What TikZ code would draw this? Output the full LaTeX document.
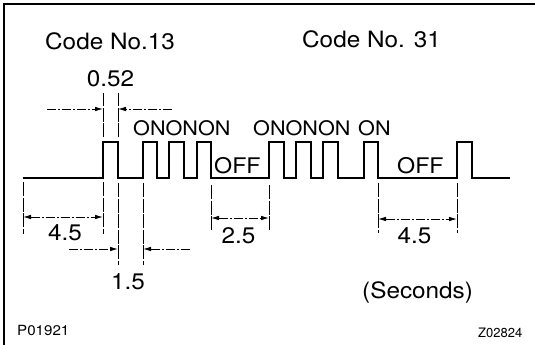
\documentclass[tikz,border=0pt]{standalone}
\usepackage{fontspec}
\setmainfont{TeX Gyre Heros}
\usetikzlibrary{arrows.meta,positioning,calc}
\newcommand{\wide}[1]{\scalebox{1.08}[1]{#1}}

\begin{document}
\begin{tikzpicture}[x=1pt,y=-1pt,
  every node/.style={inner sep=0pt,anchor=base},
  lbl/.style={font=\fontsize{22.5}{26}\selectfont},
  onlbl/.style={font=\fontsize{20}{22}\selectfont,anchor=base west},
  offlbl/.style={font=\fontsize{21.5}{24}\selectfont,anchor=base west},
  tag/.style={font=\fontsize{14}{15}\selectfont,anchor=base west},
  wave/.style={line width=1.6pt,line join=miter},
  ext/.style={line width=0.8pt,dash pattern=on 14pt off 1.5pt},
  dim/.style={line width=0.8pt,dash pattern=on 9pt off 2pt on 2pt off 2pt},
  tip/.style={-{Latex[length=8pt,width=4.5pt]}},
  tips/.style={{Latex[length=8pt,width=4.5pt]}-{Latex[length=8pt,width=4.5pt]}}]
  \useasboundingbox (0,0) rectangle (535,345);
  % frame
  \draw[line width=1.8pt] (4,345) -- (4,4) -- (535,4);
  % pulse train
  \draw[wave] (23,178) coordinate (s)
    foreach \ra/\fa [count=\i] in {103/118,143/157,169/184,197/211,269/284,
                                   296/311,323/338,364/378,457/472}
    { -- (\ra,178) coordinate (r\i) -- (\ra,142) -- (\fa,142)
      -- (\fa,178) coordinate (f\i) }
    -- (510,178) coordinate (e);
  % titles
  \node[lbl,anchor=base west] (c13) at (45,49) {\wide{Code No.13}};
  \node[lbl,anchor=base west] (c31) at (302,48) {\wide{Code No. 31}};
  % ON / OFF
  \node[onlbl] (on1) at (133,135) {\wide{ONONON}};
  \node[onlbl] (on2) at (253,135) {\wide{ONONON}};
  \node[onlbl] (on3) at (358,135) {\wide{ON}};
  \node[offlbl] (off1) at (214,173) {\wide{OFF}};
  \node[offlbl] (off2) at (397,173) {\wide{OFF}};
  % 0.52
  \foreach \c in {r1,f1}
    \draw[ext] ([yshift=41pt]\c) -- ([yshift=85pt]\c);
  \draw[dim,tip] ([shift={(-56pt,69pt)}]r1) -- ([yshift=69pt]r1);
  \draw[dim,tip] ([shift={(54pt,69pt)}]f1) -- ([yshift=69pt]f1);
  \node[lbl] (t052) at (110.5,86) {\wide{0.52}};
  % 4.5 (code 13)
  \foreach \c in {s,r1}
    \draw[ext] ([yshift=-4pt]\c) -- ([yshift=-56pt]\c);
  \draw[dim,tips] ([yshift=-39pt]s) -- ([yshift=-39pt]r1);
  \node[lbl] (t45a) at (65,240) {\wide{4.5}};
  % 1.5
  \foreach \c in {f1,r2}
    \draw[ext] ([yshift=-5pt]\c) -- ([yshift=-87pt]\c);
  \draw[dim,tip] ([shift={(-49pt,-71pt)}]f1) -- ([yshift=-71pt]f1);
  \draw[dim,tip] ([shift={(47pt,-71pt)}]r2) -- ([yshift=-71pt]r2);
  \node[lbl] (t15) at (128,289) {\wide{1.5}};
  % 2.5
  \foreach \c in {f4,r5}
    \draw[ext] ([yshift=-7pt]\c) -- ([yshift=-53pt]\c);
  \draw[dim,tips] ([yshift=-40pt]f4) -- ([yshift=-40pt]r5);
  \node[lbl] (t25) at (238.5,243) {\wide{2.5}};
  % 4.5 (code 31)
  \foreach \c in {f8,r9}
    \draw[ext] ([yshift=-5pt]\c) -- ([yshift=-55pt]\c);
  \draw[dim,tips] ([yshift=-41pt]f8) -- ([yshift=-41pt]r9);
  \node[lbl] (t45b) at (414.5,243) {\wide{4.5}};
  % notes
  \node[lbl,anchor=base west] (sec) at (362,298) {\wide{(Seconds)}};
  \node[tag] (p01) at (17,335) {\wide{P01921}};
  \node[tag,font=\fontsize{13}{14}\selectfont] (z02) at (478,337) {Z02824};
\end{tikzpicture}
\end{document}
